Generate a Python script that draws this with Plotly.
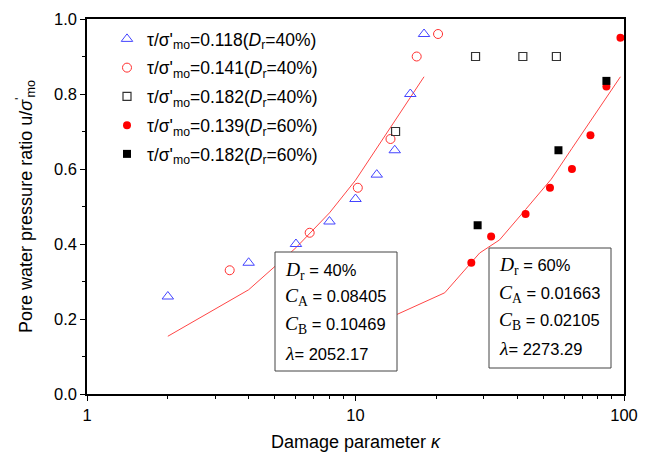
import plotly.graph_objects as go

# Measured pore-pressure ratio vs damage parameter
kappa_118_40 = [2, 4, 6, 8, 10, 12, 14, 16, 18]
ratio_118_40 = [0.26, 0.35, 0.40, 0.46, 0.52, 0.585, 0.65, 0.80, 0.96]
kappa_141_40 = [3.4, 6.75, 10.2, 13.5, 16.9, 20.3]
ratio_141_40 = [0.33, 0.43, 0.55, 0.68, 0.90, 0.96]
kappa_182_40 = [14.1, 28, 42, 56]
ratio_182_40 = [0.70, 0.90, 0.90, 0.90]
kappa_139_60 = [27, 32, 43, 53, 64, 75, 86, 97]
ratio_139_60 = [0.35, 0.42, 0.48, 0.55, 0.60, 0.69, 0.82, 0.95]
kappa_182_60 = [28.5, 57, 86]
ratio_182_60 = [0.45, 0.65, 0.835]

# Model curves
fit40_kappa = [2, 4, 6, 8, 10, 12, 14, 16, 18]
fit40_ratio = [0.154, 0.278, 0.39, 0.483, 0.57, 0.655, 0.728, 0.79, 0.846]
fit60_kappa = [10, 21.5, 29, 34.4, 43, 53.6, 64, 75, 86, 97]
fit60_ratio = [0.162, 0.27, 0.376, 0.411, 0.492, 0.573, 0.655, 0.728, 0.791, 0.846]

legend_names = [
    "τ/σ'<sub>mo</sub>=0.118(<i>D</i><sub>r</sub>=40%)",
    "τ/σ'<sub>mo</sub>=0.141(<i>D</i><sub>r</sub>=40%)",
    "τ/σ'<sub>mo</sub>=0.182(<i>D</i><sub>r</sub>=40%)",
    "τ/σ'<sub>mo</sub>=0.139(<i>D</i><sub>r</sub>=60%)",
    "τ/σ'<sub>mo</sub>=0.182(<i>D</i><sub>r</sub>=60%)",
]

SANS = "Arial, Liberation Sans, sans-serif"


def serif(s):
    return "<span style='font-family:Liberation Serif;font-size:19.5px'>" + s + "</span>"


fig = go.Figure()

line_style = dict(color="rgb(255,70,70)", width=1)
fig.add_trace(go.Scatter(x=fit40_kappa, y=fit40_ratio, mode="lines", line=line_style,
                         showlegend=False, hoverinfo="skip"))
fig.add_trace(go.Scatter(x=fit60_kappa, y=fit60_ratio, mode="lines", line=line_style,
                         showlegend=False, hoverinfo="skip"))

series = [
    (kappa_118_40, ratio_118_40, dict(symbol="triangle-up-open", size=10, color="#4444ff",
                                      line=dict(width=1))),
    (kappa_141_40, ratio_141_40, dict(symbol="circle-open", size=9, color="#ff3030",
                                      line=dict(width=1))),
    (kappa_182_40, ratio_182_40, dict(symbol="square-open", size=8, color="#333333",
                                      line=dict(width=1.2))),
    (kappa_139_60, ratio_139_60, dict(symbol="circle", size=8, color="#ff0000")),
    (kappa_182_60, ratio_182_60, dict(symbol="square", size=8, color="#000000")),
]
for i, (xs, ys, mk) in enumerate(series):
    fig.add_trace(go.Scatter(x=xs, y=ys, mode="markers", marker=mk,
                             name=legend_names[i], legendgroup=f"g{i}"))

# Parameter boxes
boxes = [
    dict(x0=275, x1=397, y0=252, y1=371, tx=283, rows=[270.5, 297.5, 325, 353],
         lines=[serif("<i>D</i><sub>r</sub>") + " = 40%",
                serif("<i>C</i><sub>A</sub>") + " = 0.08405",
                serif("<i>C</i><sub>B</sub>") + " = 0.10469",
                serif("<i>λ</i>") + "= 2052.17"]),
    dict(x0=489, x1=611, y0=248, y1=368, tx=497, rows=[266, 293.5, 320.5, 348],
         lines=[serif("<i>D</i><sub>r</sub>") + " = 60%",
                serif("<i>C</i><sub>A</sub>") + " = 0.01663",
                serif("<i>C</i><sub>B</sub>") + " = 0.02105",
                serif("<i>λ</i>") + "= 2273.29"]),
]

L, R, T, B = 87, 33, 19, 62
W, H = 657, 456
pw, ph = W - L - R, H - T - B


def px(xp):
    return (xp - L) / pw


def py(yp):
    return (H - B - yp) / ph


for b in boxes:
    fig.add_shape(type="rect", xref="paper", yref="paper",
                  x0=px(b["x0"]), x1=px(b["x1"]), y0=py(b["y1"]), y1=py(b["y0"]),
                  line=dict(color="#444444", width=1), fillcolor="white", layer="above")
    for row_y, txt in zip(b["rows"], b["lines"]):
        fig.add_annotation(xref="paper", yref="paper", x=px(b["tx"]), y=py(row_y),
                           xanchor="left", yanchor="middle", text=txt, showarrow=False,
                           font=dict(family=SANS, size=16.5, color="black"))

fig.update_xaxes(
    type="log", range=[0, 2],
    tickvals=[1, 10, 100], ticktext=["1", "10", "100"],
    ticks="outside", ticklen=5, tickwidth=1, tickcolor="black",
    minor=dict(tickvals=[2, 3, 4, 5, 6, 7, 8, 9, 20, 30, 40, 50, 60, 70, 80, 90],
               ticks="outside", ticklen=3, tickwidth=1, tickcolor="black"),
    showline=True, linecolor="black", linewidth=1.5, mirror=True,
    showgrid=False, zeroline=False,
    tickfont=dict(family=SANS, size=16.5, color="black"),
    title=dict(text="Damage parameter <i>κ</i>", font=dict(family=SANS, size=18, color="black"),
               standoff=13),
)
fig.update_yaxes(
    range=[0, 1.0], tickvals=[0, 0.2, 0.4, 0.6, 0.8, 1.0], tickformat=".1f",
    ticks="outside", ticklen=5, tickwidth=1, tickcolor="black",
    minor=dict(dtick=0.1, ticks="outside", ticklen=3, tickwidth=1, tickcolor="black"),
    showline=True, linecolor="black", linewidth=1.5, mirror=True,
    showgrid=False, zeroline=False,
    tickfont=dict(family=SANS, size=16.5, color="black"),
    title=dict(text="Pore water pressure ratio u/<i>σ</i><sup>'</sup><sub>mo</sub>",
               font=dict(family=SANS, size=18, color="black"), standoff=17),
)

fig.update_layout(
    width=W, height=H,
    margin=dict(l=L, r=R, t=T, b=B, autoexpand=False),
    paper_bgcolor="white", plot_bgcolor="white",
    showlegend=True,
    legend=dict(x=px(107), y=py(21), xanchor="left", yanchor="top",
                bgcolor="rgba(0,0,0,0)", borderwidth=0,
                font=dict(family=SANS, size=17.5, color="black"),
                tracegroupgap=3, itemwidth=30),
)

fig.write_html("out.html")
